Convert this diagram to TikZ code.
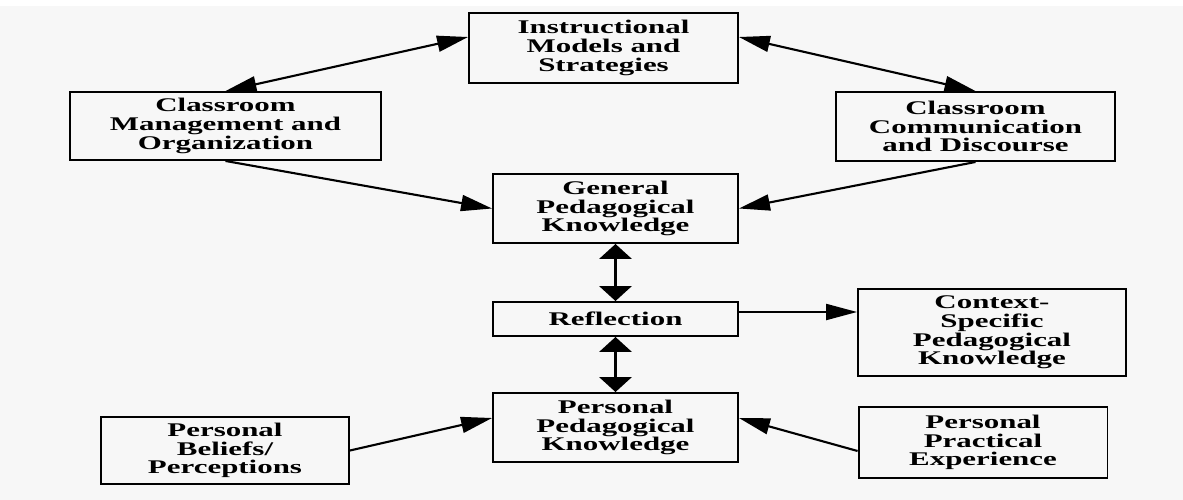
\documentclass[tikz,border=0pt]{standalone}
\usepackage{fontspec}
\setmainfont{Liberation Serif}[FakeStretch=1.6]
\usetikzlibrary{arrows.meta, positioning}
\definecolor{paper}{HTML}{F7F7F7}

\begin{document}
\begin{tikzpicture}[x=0.02cm, y=-0.02cm,
  >={Triangle[length=0.62cm, width=0.32cm]},
  box/.style={draw, rectangle, line width=1.1pt, align=center, inner sep=0pt,
    font=\fontsize{11}{10.6}\selectfont\bfseries},
  link/.style={line width=1.2pt},
  vlink/.style={>={Triangle[length=0.3cm, width=0.64cm]}, <->, line width=2.2pt}]

\fill[white] (0,0) rectangle (1183,500);
\fill[paper] (0,6) rectangle (1183,500);
\useasboundingbox (0,0) rectangle (1183,500);

% top row
\node[box, minimum width=5.38cm, minimum height=1.40cm] (instr) at (603.5,48) {Instructional\\Models and\\Strategies};
\node[box, minimum width=6.22cm, minimum height=1.36cm] (mgmt) at (225.5,126) {Classroom\\Management and\\Organization};
\node[box, minimum width=5.58cm, minimum height=1.38cm] (comm) at (975.5,126.5) {Classroom\\Communication\\and Discourse};

% middle column
\node[box, minimum width=4.90cm, minimum height=1.38cm] (gpk) at (615.5,208.5) {General\\Pedagogical\\Knowledge};
\node[box, minimum width=4.90cm, minimum height=0.68cm] (refl) at (615.5,319) {Reflection};
\node[box, minimum width=4.90cm, minimum height=1.38cm] (ppk) at (615.5,427.5) {Personal\\Pedagogical\\Knowledge};

% side boxes
\node[box, minimum width=5.36cm, minimum height=1.74cm] (cspk) at (992,332.5) {Context-\\Specific\\Pedagogical\\Knowledge};
\node[box, minimum width=4.96cm, minimum height=1.34cm] (belief) at (225,450.5) {Personal\\Beliefs/\\Perceptions};
\node[box, minimum width=4.98cm, minimum height=1.42cm] (ppe) at (983,442.5) {Personal\\Practical\\Experience};

\draw[link, <->] (mgmt.north) -- ([yshift=0.22cm]instr.west);
\draw[link, <->] ([yshift=0.22cm]instr.east) -- (comm.north);
\draw[link, ->] (mgmt.south) -- (gpk.west);
\draw[link, ->] (comm.south) -- (gpk.east);

\draw[vlink] (gpk) -- (refl);
\draw[vlink] (refl) -- (ppk);
\draw[link, ->] ([yshift=0.14cm]refl.east) -- ([yshift=0.14cm]refl.east -| cspk.west);

\draw[link, ->] (belief.east) -- ([yshift=0.19cm]ppk.west);
\draw[link, ->] ([yshift=-0.17cm]ppe.west) -- ([yshift=0.19cm]ppk.east);

\end{tikzpicture}
\end{document}
